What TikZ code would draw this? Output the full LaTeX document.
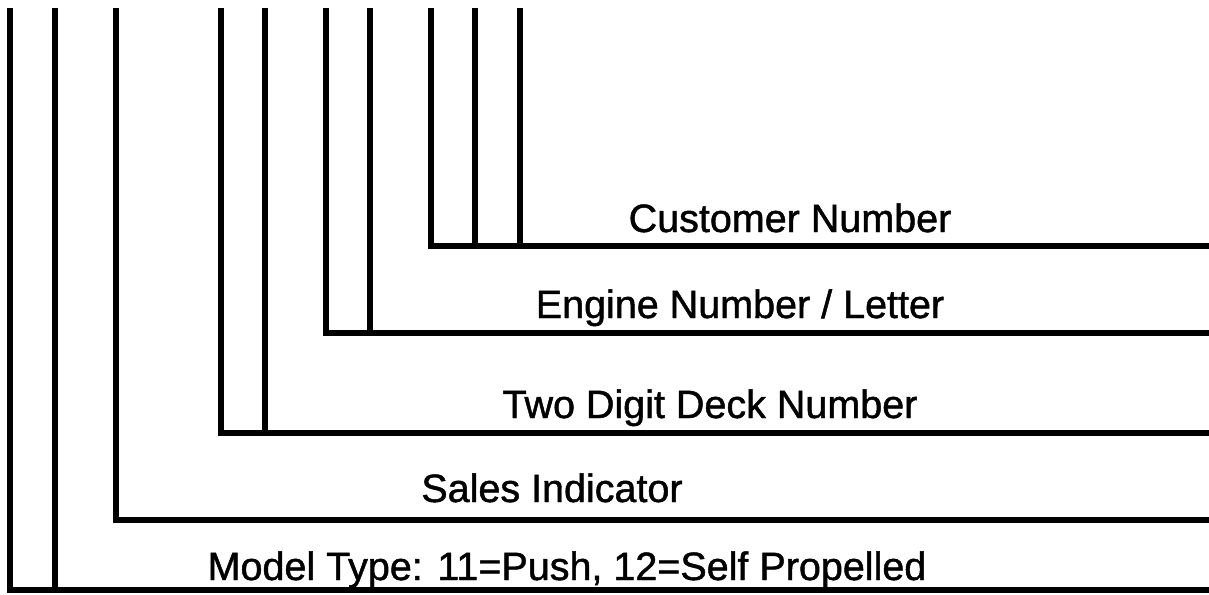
\documentclass[tikz,border=0pt]{standalone}
\usepackage{fontspec}
\setmainfont{Liberation Sans}
\newfontfamily\lblfont{Liberation Sans}[FakeBold=1.2]
\usepackage{tikz}

\tikzset{
  bar/.style={line width=3pt, line join=miter},
  lbl/.style={anchor=base, inner sep=0pt, font=\lblfont\fontsize{19.75}{24}\selectfont}
}

\begin{document}
\begin{tikzpicture}[x=0.5pt,y=-0.5pt]
\useasboundingbox (0,0) rectangle (1209,594);
\draw[bar] (10,8) |- (1209,590);
\draw[bar] (55,8) -- (55,590);
\draw[bar] (116,8) |- (1209,520);
\draw[bar] (221,8) |- (1209,433);
\draw[bar] (265,8) -- (265,433);
\draw[bar] (326,8) |- (1209,332.5);
\draw[bar] (370,8) -- (370,332.5);
\draw[bar] (431,8) |- (1209,246);
\draw[bar] (475,8) -- (475,246);
\draw[bar] (520,8) -- (520,246);
\node[lbl] (customer) at (790,232) {Customer Number};
\node[lbl] (engine) at (740,318) {Engine Number / Letter};
\node[lbl] (deck) at (710,418) {Two Digit Deck Number};
\node[lbl] (sales) at (552,502) {Sales Indicator};
\node[lbl] (model) at (567,580) {Model Type: 11=Push, 12=Self Propelled};
\end{tikzpicture}
\end{document}
